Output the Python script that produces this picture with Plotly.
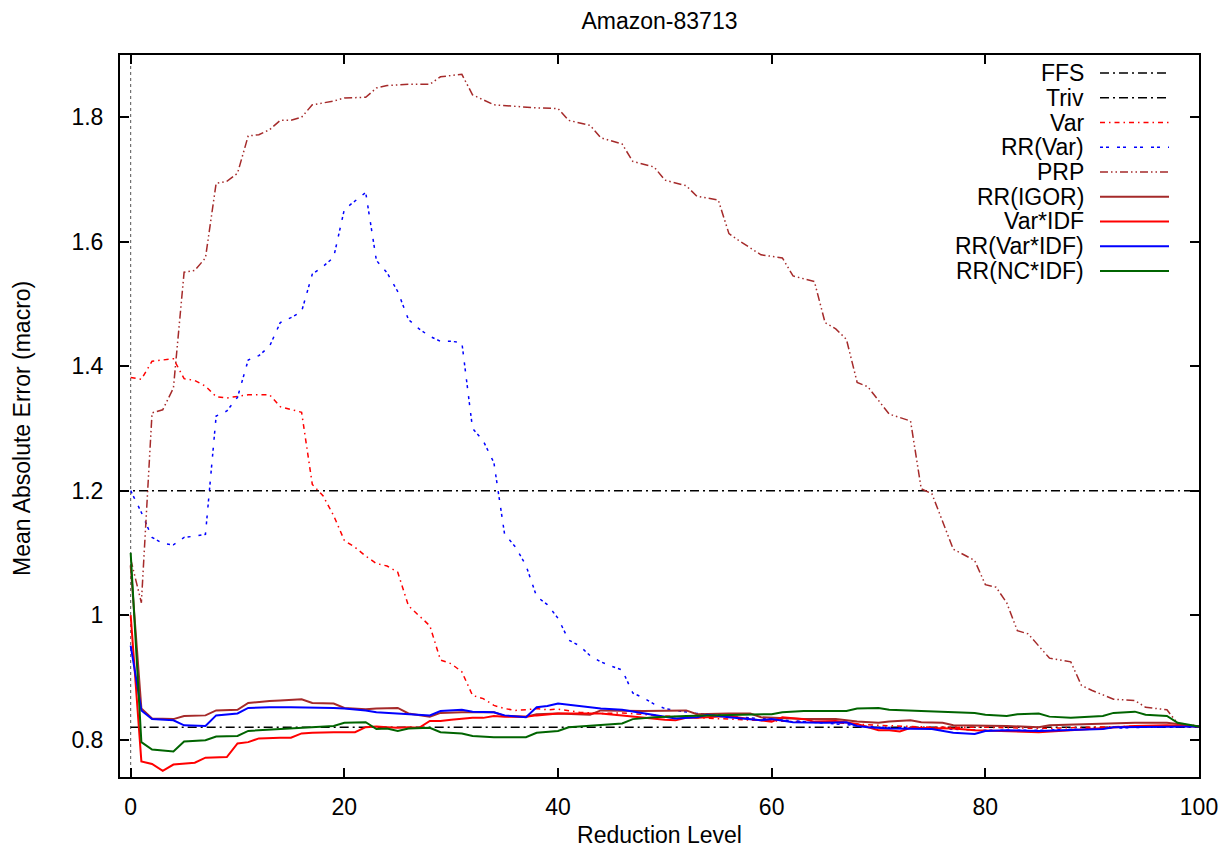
import plotly.graph_objects as go

# ---------------- data ----------------
ffs_x = [-1, 100]
ffs_y = [1.2, 1.2]
triv_x = [0, 100]
triv_y = [0.82, 0.82]

var_x = [0, 1, 2, 3, 4, 5, 6, 7, 8, 9, 10, 11, 12, 13, 14, 15, 16, 17, 18, 19, 20,
         21, 22, 23, 24, 25, 26, 27, 28, 29, 30, 31, 32, 33, 34, 35, 36, 37, 38, 39, 40,
         42, 44, 46, 48, 50, 52, 55, 58, 60, 65, 70, 75, 80, 85, 90, 95, 100]
var_y = [1.382, 1.379, 1.408, 1.41, 1.412, 1.38, 1.377, 1.368, 1.351, 1.349, 1.351,
         1.354, 1.354, 1.354, 1.335, 1.33, 1.326, 1.21, 1.192, 1.16, 1.12, 1.109, 1.095,
         1.083, 1.079, 1.069, 1.015, 0.999, 0.983, 0.928, 0.922, 0.909, 0.871, 0.866,
         0.855, 0.85, 0.847, 0.848, 0.85, 0.848, 0.849, 0.844, 0.842, 0.843, 0.84, 0.838,
         0.836, 0.834, 0.832, 0.83, 0.828, 0.823, 0.82, 0.82, 0.818, 0.82, 0.822, 0.821]

rrvar_x = [0, 1, 2, 3, 4, 5, 6, 7, 8, 9, 10, 11, 12, 13, 14, 15, 16, 17, 18, 19, 20,
           21, 22, 23, 24, 25, 26, 27, 28, 29, 30, 31, 32, 33, 34, 35, 36, 37, 38, 39, 40,
           41, 42, 43, 44, 45, 46, 47, 48, 49, 50, 51, 52, 53, 55, 57, 60, 65, 70, 75, 80,
           85, 90, 95, 100]
rrvar_y = [1.2, 1.165, 1.125, 1.115, 1.113, 1.125, 1.127, 1.13, 1.32, 1.328, 1.35, 1.41,
           1.417, 1.432, 1.47, 1.478, 1.488, 1.548, 1.56, 1.575, 1.652, 1.665, 1.679, 1.57,
           1.55, 1.52, 1.475, 1.46, 1.448, 1.44, 1.44, 1.438, 1.3, 1.28, 1.245, 1.13, 1.11,
           1.08, 1.03, 1.017, 0.995, 0.96, 0.951, 0.935, 0.925, 0.918, 0.912, 0.875, 0.867,
           0.857, 0.85, 0.847, 0.845, 0.842, 0.84, 0.836, 0.833, 0.826, 0.82, 0.818, 0.815,
           0.815, 0.818, 0.82, 0.821]

prp_x = [0, 1, 2, 3, 4, 5, 6, 7, 8, 9, 10, 11, 12, 13, 14, 15, 16, 17, 19, 20, 22, 23,
         24, 26, 28, 29, 31, 32, 34, 36, 38, 40, 41, 43, 44, 46, 47, 49, 50, 52, 53, 55,
         56, 57, 59, 61, 62, 64, 65, 66, 67, 68, 69, 71, 73, 74, 75, 77, 79, 80, 81, 82,
         83, 84, 86, 88, 89, 90, 92, 94, 95, 97, 98, 100]
prp_y = [1.09, 1.02, 1.325, 1.33, 1.365, 1.551, 1.554, 1.574, 1.694, 1.697, 1.71, 1.77,
         1.772, 1.78, 1.795, 1.795, 1.8, 1.82, 1.826, 1.831, 1.832, 1.847, 1.851, 1.853,
         1.853, 1.865, 1.869, 1.836, 1.82, 1.817, 1.815, 1.814, 1.795, 1.787, 1.767, 1.757,
         1.729, 1.72, 1.699, 1.69, 1.673, 1.667, 1.613, 1.601, 1.579, 1.574, 1.545, 1.536,
         1.47, 1.46, 1.443, 1.374, 1.367, 1.323, 1.312, 1.203, 1.195, 1.106, 1.088, 1.049,
         1.045, 1.02, 0.975, 0.97, 0.931, 0.925, 0.887, 0.879, 0.865, 0.863, 0.852, 0.848,
         0.826, 0.822]

igor_x = [0, 1, 2, 3, 4, 5, 6, 7, 8, 9, 10, 11, 12, 13, 14, 15, 16, 17, 18, 19, 20, 21,
          22, 23, 24, 25, 26, 27, 28, 29, 31, 34, 35, 37, 38, 40, 43, 44, 48, 52, 53, 56,
          58, 59, 63, 66, 68, 70, 71, 73, 74, 76, 77, 82, 85, 86, 91, 94, 97, 100]
igor_y = [1.08, 0.85, 0.834, 0.833, 0.833, 0.838, 0.838, 0.839, 0.847, 0.847, 0.848,
          0.859, 0.861, 0.862, 0.863, 0.864, 0.865, 0.859, 0.858, 0.858, 0.851, 0.85,
          0.849, 0.85, 0.85, 0.851, 0.842, 0.84, 0.837, 0.843, 0.844, 0.844, 0.838, 0.837,
          0.841, 0.842, 0.84, 0.847, 0.846, 0.847, 0.841, 0.842, 0.842, 0.836, 0.833,
          0.833, 0.829, 0.827, 0.829, 0.831, 0.828, 0.827, 0.823, 0.822, 0.82, 0.823,
          0.826, 0.827, 0.827, 0.821]

varidf_x = [0, 1, 2, 3, 4, 5, 6, 7, 8, 9, 10, 11, 12, 13, 14, 15, 16, 17, 18, 19, 20,
            21, 22, 23, 24, 25, 26, 27, 28, 29, 30, 31, 32, 33, 34, 35, 36, 37, 38, 39,
            40, 42, 44, 46, 48, 49, 50, 51, 52, 53, 56, 58, 60, 61, 63, 64, 66, 68, 70,
            71, 72, 73, 75, 77, 79, 82, 85, 88, 91, 94, 97, 100]
varidf_y = [1.0, 0.765, 0.761, 0.75, 0.76, 0.762, 0.763, 0.771, 0.771, 0.772, 0.794,
            0.796, 0.802, 0.803, 0.803, 0.803, 0.81, 0.811, 0.812, 0.812, 0.812, 0.812,
            0.82, 0.821, 0.82, 0.819, 0.82, 0.819, 0.83, 0.83, 0.832, 0.834, 0.835, 0.835,
            0.838, 0.837, 0.837, 0.837, 0.839, 0.84, 0.842, 0.842, 0.842, 0.839, 0.835,
            0.834, 0.832, 0.831, 0.835, 0.835, 0.838, 0.833, 0.829, 0.836, 0.833, 0.829,
            0.83, 0.825, 0.815, 0.815, 0.813, 0.819, 0.819, 0.818, 0.815, 0.813, 0.812,
            0.815, 0.819, 0.822, 0.823, 0.821]

rrvaridf_x = [0, 1, 2, 3, 4, 5, 6, 7, 8, 9, 10, 11, 12, 13, 15, 17, 19, 20, 22, 23, 24,
              26, 28, 29, 31, 32, 34, 35, 37, 38, 39, 40, 41, 43, 44, 46, 48, 49, 51, 53,
              54, 56, 59, 60, 62, 65, 67, 68, 69, 71, 73, 75, 77, 79, 80, 82, 85, 88, 91,
              92, 100]
rrvaridf_y = [0.951, 0.847, 0.833, 0.832, 0.831, 0.823, 0.822, 0.822, 0.839, 0.84, 0.842,
              0.851, 0.852, 0.852, 0.852, 0.852, 0.851, 0.85, 0.847, 0.844, 0.843, 0.841,
              0.839, 0.846, 0.848, 0.845, 0.844, 0.839, 0.836, 0.852, 0.854, 0.858, 0.856,
              0.853, 0.85, 0.848, 0.842, 0.839, 0.834, 0.836, 0.84, 0.836, 0.831, 0.833,
              0.828, 0.827, 0.828, 0.822, 0.82, 0.818, 0.817, 0.817, 0.811, 0.809, 0.814,
              0.815, 0.814, 0.815, 0.817, 0.82, 0.821]

ncidf_x = [0, 1, 2, 3, 4, 5, 6, 7, 8, 9, 10, 11, 12, 13, 15, 17, 19, 20, 22, 23, 24, 25,
           26, 28, 29, 31, 32, 34, 37, 38, 39, 40, 41, 43, 46, 47, 49, 52, 56, 60, 61, 63,
           67, 68, 70, 71, 74, 76, 79, 80, 82, 83, 85, 86, 88, 91, 92, 94, 95, 97, 98, 100]
ncidf_y = [1.10, 0.796, 0.784, 0.783, 0.781, 0.797, 0.798, 0.799, 0.805, 0.805, 0.806,
           0.814, 0.815, 0.815, 0.817, 0.82, 0.822, 0.827, 0.828, 0.817, 0.818, 0.814,
           0.818, 0.819, 0.812, 0.81, 0.806, 0.804, 0.804, 0.811, 0.812, 0.814, 0.82,
           0.822, 0.826, 0.833, 0.836, 0.838, 0.84, 0.841, 0.844, 0.846, 0.846, 0.85,
           0.851, 0.848, 0.846, 0.845, 0.843, 0.84, 0.838, 0.841, 0.842, 0.837, 0.835,
           0.838, 0.843, 0.845, 0.84, 0.838, 0.827, 0.821]

x_ticks = [0, 20, 40, 60, 80, 100]
y_ticks = [0.8, 1.0, 1.2, 1.4, 1.6, 1.8]
y_tick_text = ["0.8", "1", "1.2", "1.4", "1.6", "1.8"]

BROWN = "#A52A2A"
RED = "#FF0000"
BLUE = "#0000FF"
GREEN = "#006400"
BLACK = "#000000"

series = [
    ("FFS", ffs_x, ffs_y, BLACK, "9px,4px,2px,4px", 1.5),
    ("Triv", triv_x, triv_y, BLACK, "9px,4px,2px,4px", 1.5),
    ("Var", var_x, var_y, RED, "5px,4px,1.5px,4px", 1.5),
    ("RR(Var)", rrvar_x, rrvar_y, BLUE, "3px,3px,3px,8px", 1.5),
    ("PRP", prp_x, prp_y, BROWN, "8px,3px,1.5px,3px,1.5px,3px", 1.5),
    ("RR(IGOR)", igor_x, igor_y, BROWN, "solid", 2),
    ("Var*IDF", varidf_x, varidf_y, RED, "solid", 2),
    ("RR(Var*IDF)", rrvaridf_x, rrvaridf_y, BLUE, "solid", 2),
    ("RR(NC*IDF)", ncidf_x, ncidf_y, GREEN, "solid", 2),
]

FONT = "Liberation Sans, Arial, Helvetica, sans-serif"
FS = 23

fig = go.Figure()

for name, xs, ys, col, dash, w in series:
    fig.add_trace(go.Scatter(x=xs, y=ys, mode="lines", name=name,
                             line=dict(color=col, dash=dash, width=w),
                             showlegend=False))

# vertical zero axis (dotted)
fig.add_shape(type="line", xref="x", yref="paper", x0=0, x1=0, y0=0, y1=1,
              line=dict(color="#555555", width=1, dash="dot"), layer="below")

# gnuplot-style key: right aligned text, sample to the right
W, H = 1228, 848
L, R, T, B = 120, 29, 55, 71
pw, ph = W - L - R, H - T - B
key_top = 73
key_step = 24.75
for i, (name, xs, ys, col, dash, w) in enumerate(series):
    py = key_top + i * key_step
    yp = (H - B - py) / ph
    fig.add_annotation(xref="paper", yref="paper", x=(1086 - L) / pw, y=yp,
                       text=name, showarrow=False, xanchor="right", yanchor="middle",
                       font=dict(family=FONT, size=FS, color="black"))
    fig.add_shape(type="line", xref="paper", yref="paper",
                  x0=(1100 - L) / pw, x1=(1169 - L) / pw, y0=yp, y1=yp,
                  line=dict(color=col, dash=dash, width=w))

# y-axis label (gnuplot places it slightly below the plot's centre)
fig.add_annotation(xref="paper", yref="paper", x=(22 - L) / pw, y=(H - B - 429) / ph,
                   text="Mean Absolute Error (macro)", textangle=-90, showarrow=False,
                   xanchor="center", yanchor="middle",
                   font=dict(family=FONT, size=FS, color="black"))

fig.update_layout(
    width=W, height=H,
    margin=dict(l=L, r=R, t=T, b=B, autoexpand=False),
    paper_bgcolor="white", plot_bgcolor="white",
    font=dict(family=FONT, size=FS, color="black"),
    title=dict(text="Amazon-83713", x=(L + pw / 2) / W, xanchor="center",
               y=1 - 21 / H, yanchor="middle", font=dict(family=FONT, size=FS)),
    showlegend=False,
)

axis_common = dict(showline=True, linecolor="black", linewidth=2, mirror="ticks",
                   ticks="inside", ticklen=9, tickwidth=1.5, tickcolor="black",
                   showgrid=False, zeroline=False, automargin=False,
                   tickfont=dict(family=FONT, size=FS, color="black"))

fig.update_xaxes(range=[-1, 100], tickvals=x_ticks, ticktext=[str(v) for v in x_ticks],
                 title=dict(text="Reduction Level", standoff=8,
                            font=dict(family=FONT, size=FS)),
                 ticklabelstandoff=8, **axis_common)
fig.update_yaxes(range=[0.74, 1.9], tickvals=y_ticks, ticktext=y_tick_text,
                 ticklabelstandoff=10, **axis_common)

fig.write_html("out.html", config={"displayModeBar": False},
               post_script="document.body.style.margin='0';document.body.style.overflow='hidden';")
